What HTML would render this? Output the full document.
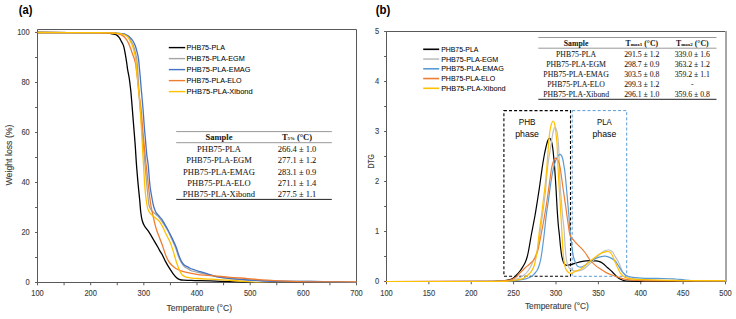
<!DOCTYPE html>
<html><head><meta charset="utf-8"><style>
html,body{margin:0;padding:0;background:#fff;}
body{width:736px;height:319px;overflow:hidden;font-family:"Liberation Sans",sans-serif;}
svg{display:block;}
</style></head><body>
<svg width="736" height="319" viewBox="0 0 736 319">
<rect width="736" height="319" fill="#fff"/>
<defs><clipPath id="ca"><rect x="37.5" y="28" width="319.5" height="254.6"/></clipPath><clipPath id="cb"><rect x="386" y="28" width="340" height="254"/></clipPath></defs>
<g stroke="#595959" stroke-width="1.0" fill="none">
<path d="M37.50 29.50 H356.50 V282.50"/>
<path d="M37.50 29.50 V282.50 H356.50"/>
<path d="M35.10 282.50 H37.50"/>
<path d="M35.10 257.50 H37.50"/>
<path d="M35.10 232.50 H37.50"/>
<path d="M35.10 207.50 H37.50"/>
<path d="M35.10 182.50 H37.50"/>
<path d="M35.10 157.50 H37.50"/>
<path d="M35.10 132.50 H37.50"/>
<path d="M35.10 107.50 H37.50"/>
<path d="M35.10 82.50 H37.50"/>
<path d="M35.10 57.50 H37.50"/>
<path d="M35.10 32.50 H37.50"/>
<path d="M37.50 282.50 V285.30"/>
<path d="M64.08 282.50 V285.30"/>
<path d="M90.67 282.50 V285.30"/>
<path d="M117.25 282.50 V285.30"/>
<path d="M143.83 282.50 V285.30"/>
<path d="M170.42 282.50 V285.30"/>
<path d="M197.00 282.50 V285.30"/>
<path d="M223.58 282.50 V285.30"/>
<path d="M250.17 282.50 V285.30"/>
<path d="M276.75 282.50 V285.30"/>
<path d="M303.33 282.50 V285.30"/>
<path d="M329.92 282.50 V285.30"/>
<path d="M356.50 282.50 V285.30"/>
</g>
<g clip-path="url(#ca)" fill="none" stroke-width="1.3" stroke-linejoin="round" stroke-linecap="round">
<path d="M38.00 32.50 C48.33 32.53 88.33 32.60 100.00 32.70 C111.67 32.80 105.97 32.90 108.00 33.10 C110.03 33.30 110.80 33.60 112.20 33.90 C113.60 34.20 115.22 34.28 116.40 34.90 C117.58 35.52 118.60 36.75 119.30 37.60 C120.00 38.45 119.90 38.67 120.60 40.00 C121.30 41.33 122.72 43.25 123.50 45.60 C124.28 47.95 124.75 51.12 125.30 54.10 C125.85 57.08 126.40 60.85 126.80 63.50 C127.20 66.15 127.30 67.58 127.70 70.00 C128.10 72.42 128.70 74.67 129.20 78.00 C129.70 81.33 130.30 86.33 130.70 90.00 C131.10 93.67 131.25 95.83 131.60 100.00 C131.95 104.17 132.40 110.00 132.80 115.00 C133.20 120.00 133.60 125.00 134.00 130.00 C134.40 135.00 134.78 139.17 135.20 145.00 C135.62 150.83 136.00 158.33 136.50 165.00 C137.00 171.67 137.67 179.17 138.20 185.00 C138.73 190.83 139.27 195.42 139.70 200.00 C140.13 204.58 140.38 209.08 140.80 212.50 C141.22 215.92 141.58 218.25 142.20 220.50 C142.82 222.75 143.32 223.98 144.50 226.00 C145.68 228.02 147.77 230.27 149.30 232.60 C150.83 234.93 152.33 237.68 153.70 240.00 C155.07 242.32 156.45 244.65 157.50 246.50 C158.55 248.35 159.18 249.68 160.00 251.10 C160.82 252.52 161.47 253.25 162.40 255.00 C163.33 256.75 164.43 259.40 165.60 261.60 C166.77 263.80 168.13 266.17 169.40 268.20 C170.67 270.23 171.95 272.17 173.20 273.80 C174.45 275.43 175.80 277.03 176.90 278.00 C178.00 278.97 178.70 279.23 179.80 279.60 C180.90 279.97 181.80 280.07 183.50 280.20 C185.20 280.33 188.08 280.33 190.00 280.40 C191.92 280.47 191.67 280.52 195.00 280.60 C198.33 280.68 204.17 280.72 210.00 280.90 C215.83 281.08 223.73 281.42 230.00 281.70 C236.27 281.98 242.27 282.32 247.60 282.60 C252.93 282.88 253.27 283.20 262.00 283.40 C270.73 283.60 284.33 283.70 300.00 283.80 C315.67 283.90 346.67 283.97 356.00 284.00" stroke="#000000"/>
<path d="M38.00 32.50 C48.33 32.53 87.17 32.58 100.00 32.70 C112.83 32.82 111.50 33.03 115.00 33.20 C118.50 33.37 119.50 33.55 121.00 33.70 C122.50 33.85 123.00 33.80 124.00 34.10 C125.00 34.40 126.12 34.92 127.00 35.50 C127.88 36.08 128.70 36.85 129.30 37.60 C129.90 38.35 129.92 38.67 130.60 40.00 C131.28 41.33 132.62 43.57 133.40 45.60 C134.18 47.63 134.75 50.00 135.30 52.20 C135.85 54.40 136.30 55.83 136.70 58.80 C137.10 61.77 137.38 65.63 137.70 70.00 C138.02 74.37 138.32 80.00 138.60 85.00 C138.88 90.00 139.03 95.00 139.40 100.00 C139.77 105.00 140.30 109.17 140.80 115.00 C141.30 120.83 141.90 129.17 142.40 135.00 C142.90 140.83 143.37 145.00 143.80 150.00 C144.23 155.00 144.55 159.67 145.00 165.00 C145.45 170.33 146.02 176.83 146.50 182.00 C146.98 187.17 147.48 192.17 147.90 196.00 C148.32 199.83 148.57 202.83 149.00 205.00 C149.43 207.17 149.92 207.92 150.50 209.00 C151.08 210.08 151.83 210.78 152.50 211.50 C153.17 212.22 153.67 212.58 154.50 213.30 C155.33 214.02 156.50 214.80 157.50 215.80 C158.50 216.80 159.48 217.97 160.50 219.30 C161.52 220.63 162.45 222.02 163.60 223.80 C164.75 225.58 166.10 227.58 167.40 230.00 C168.70 232.42 170.07 235.42 171.40 238.30 C172.73 241.18 174.30 244.52 175.40 247.30 C176.50 250.08 177.07 252.55 178.00 255.00 C178.93 257.45 179.95 260.07 181.00 262.00 C182.05 263.93 183.10 265.45 184.30 266.60 C185.50 267.75 186.93 268.17 188.20 268.90 C189.47 269.63 189.82 270.32 191.90 271.00 C193.98 271.68 197.68 272.28 200.70 273.00 C203.72 273.72 206.45 274.53 210.00 275.30 C213.55 276.07 217.00 276.90 222.00 277.60 C227.00 278.30 232.00 278.93 240.00 279.50 C248.00 280.07 258.33 280.68 270.00 281.00 C281.67 281.32 300.00 281.27 310.00 281.40 C320.00 281.53 322.33 281.65 330.00 281.80 C337.67 281.95 351.67 282.22 356.00 282.30" stroke="#a5a5a5"/>
<path d="M38.00 32.50 C48.33 32.53 87.17 32.58 100.00 32.70 C112.83 32.82 111.50 33.05 115.00 33.20 C118.50 33.35 119.50 33.48 121.00 33.60 C122.50 33.72 123.08 33.67 124.00 33.90 C124.92 34.13 125.70 34.60 126.50 35.00 C127.30 35.40 128.08 35.77 128.80 36.30 C129.52 36.83 130.20 37.58 130.80 38.20 C131.40 38.82 131.67 38.77 132.40 40.00 C133.13 41.23 134.42 43.57 135.20 45.60 C135.98 47.63 136.55 50.00 137.10 52.20 C137.65 54.40 138.08 55.83 138.50 58.80 C138.92 61.77 139.27 66.47 139.60 70.00 C139.93 73.53 140.22 76.67 140.50 80.00 C140.78 83.33 141.08 87.50 141.30 90.00 C141.52 92.50 141.50 91.67 141.80 95.00 C142.10 98.33 142.67 104.50 143.10 110.00 C143.53 115.50 144.00 123.00 144.40 128.00 C144.80 133.00 145.10 135.50 145.50 140.00 C145.90 144.50 146.35 150.83 146.80 155.00 C147.25 159.17 147.68 160.00 148.20 165.00 C148.72 170.00 149.33 179.83 149.90 185.00 C150.47 190.17 151.03 192.67 151.60 196.00 C152.17 199.33 152.77 202.70 153.30 205.00 C153.83 207.30 154.30 208.48 154.80 209.80 C155.30 211.12 155.68 211.97 156.30 212.90 C156.92 213.83 157.60 214.35 158.50 215.40 C159.40 216.45 160.72 217.83 161.70 219.20 C162.68 220.57 163.35 221.80 164.40 223.60 C165.45 225.40 166.72 227.58 168.00 230.00 C169.28 232.42 170.75 235.25 172.10 238.10 C173.45 240.95 175.02 244.33 176.10 247.10 C177.18 249.87 177.68 252.28 178.60 254.70 C179.52 257.12 180.62 259.83 181.60 261.60 C182.58 263.37 183.40 264.37 184.50 265.30 C185.60 266.23 186.97 266.58 188.20 267.20 C189.43 267.82 189.88 268.25 191.90 269.00 C193.92 269.75 197.17 270.73 200.30 271.70 C203.43 272.67 207.82 273.95 210.70 274.80 C213.58 275.65 214.38 276.17 217.60 276.80 C220.82 277.43 226.37 278.17 230.00 278.60 C233.63 279.03 233.75 279.00 239.40 279.40 C245.05 279.80 257.97 280.68 263.90 281.00 C269.83 281.32 267.32 281.23 275.00 281.30 C282.68 281.37 300.83 281.32 310.00 281.40 C319.17 281.48 322.33 281.65 330.00 281.80 C337.67 281.95 351.67 282.22 356.00 282.30" stroke="#4472c4"/>
<path d="M38.00 32.50 C48.33 32.55 87.67 32.68 100.00 32.80 C112.33 32.92 109.17 33.08 112.00 33.20 C114.83 33.32 115.67 33.32 117.00 33.50 C118.33 33.68 119.07 33.95 120.00 34.30 C120.93 34.65 121.80 35.07 122.60 35.60 C123.40 36.13 124.15 36.82 124.80 37.50 C125.45 38.18 125.93 38.85 126.50 39.70 C127.07 40.55 127.68 41.60 128.20 42.60 C128.72 43.60 128.98 44.10 129.60 45.70 C130.22 47.30 131.12 50.02 131.90 52.20 C132.68 54.38 133.67 56.75 134.30 58.80 C134.93 60.85 135.35 62.63 135.70 64.50 C136.05 66.37 136.12 67.75 136.40 70.00 C136.68 72.25 137.00 74.33 137.40 78.00 C137.80 81.67 138.27 87.50 138.80 92.00 C139.33 96.50 140.13 101.17 140.60 105.00 C141.07 108.83 141.23 110.83 141.60 115.00 C141.97 119.17 142.37 125.00 142.80 130.00 C143.23 135.00 143.73 140.00 144.20 145.00 C144.67 150.00 145.18 155.83 145.60 160.00 C146.02 164.17 146.25 165.83 146.70 170.00 C147.15 174.17 147.82 180.67 148.30 185.00 C148.78 189.33 149.18 192.67 149.60 196.00 C150.02 199.33 150.40 202.50 150.80 205.00 C151.20 207.50 151.65 209.27 152.00 211.00 C152.35 212.73 152.60 214.03 152.90 215.40 C153.20 216.77 153.43 217.63 153.80 219.20 C154.17 220.77 154.52 222.67 155.10 224.80 C155.68 226.93 156.48 229.63 157.30 232.00 C158.12 234.37 159.05 236.48 160.00 239.00 C160.95 241.52 162.00 244.27 163.00 247.10 C164.00 249.93 164.93 253.43 166.00 256.00 C167.07 258.57 168.05 260.63 169.40 262.50 C170.75 264.37 172.53 265.95 174.10 267.20 C175.67 268.45 177.07 269.22 178.80 270.00 C180.53 270.78 182.63 271.38 184.50 271.90 C186.37 272.42 187.67 272.65 190.00 273.10 C192.33 273.55 194.48 274.15 198.50 274.60 C202.52 275.05 208.85 275.35 214.10 275.80 C219.35 276.25 224.42 276.83 230.00 277.30 C235.58 277.77 242.27 278.17 247.60 278.60 C252.93 279.03 257.43 279.57 262.00 279.90 C266.57 280.23 268.67 280.32 275.00 280.60 C281.33 280.88 290.83 281.38 300.00 281.60 C309.17 281.82 320.67 281.83 330.00 281.90 C339.33 281.97 351.67 281.98 356.00 282.00" stroke="#ed7d31"/>
<path d="M38.00 32.50 C48.33 32.53 87.17 32.60 100.00 32.70 C112.83 32.80 111.58 32.93 115.00 33.10 C118.42 33.27 119.23 33.52 120.50 33.70 C121.77 33.88 121.77 33.93 122.60 34.20 C123.43 34.47 124.58 34.77 125.50 35.30 C126.42 35.83 127.42 36.62 128.10 37.40 C128.78 38.18 128.88 38.63 129.60 40.00 C130.32 41.37 131.62 43.57 132.40 45.60 C133.18 47.63 133.75 50.00 134.30 52.20 C134.85 54.40 135.32 55.83 135.70 58.80 C136.08 61.77 136.28 66.47 136.60 70.00 C136.92 73.53 137.27 76.67 137.60 80.00 C137.93 83.33 138.27 86.67 138.60 90.00 C138.93 93.33 139.27 95.83 139.60 100.00 C139.93 104.17 140.23 109.17 140.60 115.00 C140.97 120.83 141.42 128.33 141.80 135.00 C142.18 141.67 142.58 149.50 142.90 155.00 C143.22 160.50 143.40 163.00 143.70 168.00 C144.00 173.00 144.37 180.33 144.70 185.00 C145.03 189.67 145.32 192.67 145.70 196.00 C146.08 199.33 146.58 202.70 147.00 205.00 C147.42 207.30 147.73 208.48 148.20 209.80 C148.67 211.12 149.12 211.97 149.80 212.90 C150.48 213.83 151.37 214.57 152.30 215.40 C153.23 216.23 154.37 217.07 155.40 217.90 C156.43 218.73 157.57 219.42 158.50 220.40 C159.43 221.38 160.17 222.45 161.00 223.80 C161.83 225.15 162.67 226.80 163.50 228.50 C164.33 230.20 164.92 231.73 166.00 234.00 C167.08 236.27 168.90 239.58 170.00 242.10 C171.10 244.62 171.83 246.78 172.60 249.10 C173.37 251.42 173.88 253.60 174.60 256.00 C175.32 258.40 176.03 261.00 176.90 263.50 C177.77 266.00 178.85 269.05 179.80 271.00 C180.75 272.95 181.52 274.18 182.60 275.20 C183.68 276.22 185.07 276.67 186.30 277.10 C187.53 277.53 188.15 277.57 190.00 277.80 C191.85 278.03 194.07 278.27 197.40 278.50 C200.73 278.73 205.87 278.98 210.00 279.20 C214.13 279.42 217.30 279.50 222.20 279.80 C227.10 280.10 233.82 280.58 239.40 281.00 C244.98 281.42 250.93 281.93 255.70 282.30 C260.47 282.67 260.62 282.97 268.00 283.20 C275.38 283.43 285.33 283.57 300.00 283.70 C314.67 283.83 346.67 283.95 356.00 284.00" stroke="#ffc000"/>
</g>
<g font-family="Liberation Sans, sans-serif" font-size="8.2" fill="#404040" text-anchor="end" stroke="#404040" stroke-width="0.12">
<text x="29.7" y="285.00" textLength="4.2" lengthAdjust="spacingAndGlyphs">0</text>
<text x="29.7" y="235.00" textLength="8.3" lengthAdjust="spacingAndGlyphs">20</text>
<text x="29.7" y="185.00" textLength="8.3" lengthAdjust="spacingAndGlyphs">40</text>
<text x="29.7" y="135.00" textLength="8.3" lengthAdjust="spacingAndGlyphs">60</text>
<text x="29.7" y="85.00" textLength="8.3" lengthAdjust="spacingAndGlyphs">80</text>
<text x="29.7" y="35.00" textLength="12.5" lengthAdjust="spacingAndGlyphs">100</text>
</g>
<g font-family="Liberation Sans, sans-serif" font-size="8.2" fill="#404040" text-anchor="middle" stroke="#404040" stroke-width="0.12">
<text x="37.50" y="295.50" textLength="12.5" lengthAdjust="spacingAndGlyphs">100</text>
<text x="90.67" y="295.50" textLength="12.5" lengthAdjust="spacingAndGlyphs">200</text>
<text x="143.83" y="295.50" textLength="12.5" lengthAdjust="spacingAndGlyphs">300</text>
<text x="197.00" y="295.50" textLength="12.5" lengthAdjust="spacingAndGlyphs">400</text>
<text x="250.17" y="295.50" textLength="12.5" lengthAdjust="spacingAndGlyphs">500</text>
<text x="303.33" y="295.50" textLength="12.5" lengthAdjust="spacingAndGlyphs">600</text>
<text x="356.50" y="295.50" textLength="12.5" lengthAdjust="spacingAndGlyphs">700</text>
</g>
<text font-family="Liberation Sans, sans-serif" font-size="8.3" fill="#404040" stroke="#404040" stroke-width="0.12" text-anchor="middle" x="199.3" y="310.6" textLength="65.4" lengthAdjust="spacingAndGlyphs">Temperature (°C)</text>
<text font-family="Liberation Sans, sans-serif" font-size="8.3" fill="#404040" stroke="#404040" stroke-width="0.12" text-anchor="middle" transform="translate(11.6 155) rotate(-90)" x="0" y="0" textLength="61" lengthAdjust="spacingAndGlyphs">Weight loss (%)</text>
<path d="M168.8 47.60 H185.2" stroke="#000000" stroke-width="1.4"/>
<text font-family="Liberation Sans, sans-serif" font-size="7.9" fill="#000" stroke="#000" stroke-width="0.04" x="186.5" y="50.20" textLength="38.4" lengthAdjust="spacingAndGlyphs">PHB75-PLA</text>
<path d="M168.8 58.60 H185.2" stroke="#a5a5a5" stroke-width="1.4"/>
<text font-family="Liberation Sans, sans-serif" font-size="7.9" fill="#000" stroke="#000" stroke-width="0.04" x="186.5" y="61.20" textLength="58.3" lengthAdjust="spacingAndGlyphs">PHB75-PLA-EGM</text>
<path d="M168.8 69.60 H185.2" stroke="#4472c4" stroke-width="1.4"/>
<text font-family="Liberation Sans, sans-serif" font-size="7.9" fill="#000" stroke="#000" stroke-width="0.04" x="186.5" y="72.20" textLength="64.0" lengthAdjust="spacingAndGlyphs">PHB75-PLA-EMAG</text>
<path d="M168.8 80.60 H185.2" stroke="#ed7d31" stroke-width="1.4"/>
<text font-family="Liberation Sans, sans-serif" font-size="7.9" fill="#000" stroke="#000" stroke-width="0.04" x="186.5" y="83.20" textLength="55.0" lengthAdjust="spacingAndGlyphs">PHB75-PLA-ELO</text>
<path d="M168.8 91.60 H185.2" stroke="#ffc000" stroke-width="1.4"/>
<text font-family="Liberation Sans, sans-serif" font-size="7.9" fill="#000" stroke="#000" stroke-width="0.04" x="186.5" y="94.20" textLength="66.2" lengthAdjust="spacingAndGlyphs">PHB75-PLA-Xibond</text>
<g stroke="#595959" stroke-width="1.0" fill="none">
<path d="M386.50 31.50 V281.50 H725.50"/>
<path d="M386.50 31.50 H725.50"/>
<path d="M384.10 281.50 H386.50"/>
<path d="M384.10 256.50 H386.50"/>
<path d="M384.10 231.50 H386.50"/>
<path d="M384.10 206.50 H386.50"/>
<path d="M384.10 181.50 H386.50"/>
<path d="M384.10 156.50 H386.50"/>
<path d="M384.10 131.50 H386.50"/>
<path d="M384.10 106.50 H386.50"/>
<path d="M384.10 81.50 H386.50"/>
<path d="M384.10 56.50 H386.50"/>
<path d="M384.10 31.50 H386.50"/>
<path d="M386.50 281.50 V284.30"/>
<path d="M428.88 281.50 V284.30"/>
<path d="M471.25 281.50 V284.30"/>
<path d="M513.62 281.50 V284.30"/>
<path d="M556.00 281.50 V284.30"/>
<path d="M598.38 281.50 V284.30"/>
<path d="M640.75 281.50 V284.30"/>
<path d="M683.12 281.50 V284.30"/>
<path d="M725.50 281.50 V284.30"/>
</g>
<path d="M726 31.00 V282.00" stroke="#a6a6a6" stroke-width="2"/>
<rect x="503.9" y="110.6" width="66.6" height="165.7" fill="none" stroke="#000" stroke-width="1.1" stroke-dasharray="3 2.1"/>
<rect x="572.2" y="110.6" width="54.5" height="165.7" fill="none" stroke="#5b9bd5" stroke-width="1.0" stroke-dasharray="3 2.1"/>
<g clip-path="url(#cb)" fill="none" stroke-width="1.2" stroke-linejoin="round" stroke-linecap="round">
<path d="M386.30 281.50 C401.92 281.48 461.38 281.50 480.00 281.40 C498.62 281.30 493.83 281.05 498.00 280.90 C502.17 280.75 503.00 280.72 505.00 280.50 C507.00 280.28 508.67 279.97 510.00 279.60 C511.33 279.23 512.00 278.98 513.00 278.30 C514.00 277.62 514.83 276.72 516.00 275.50 C517.17 274.28 518.83 272.50 520.00 271.00 C521.17 269.50 522.13 267.92 523.00 266.50 C523.87 265.08 524.53 264.00 525.20 262.50 C525.87 261.00 526.42 259.58 527.00 257.50 C527.58 255.42 527.98 253.75 528.70 250.00 C529.42 246.25 530.55 239.17 531.30 235.00 C532.05 230.83 532.57 228.33 533.20 225.00 C533.83 221.67 534.43 218.83 535.10 215.00 C535.77 211.17 536.42 207.00 537.20 202.00 C537.98 197.00 538.95 190.83 539.80 185.00 C540.65 179.17 541.55 172.00 542.30 167.00 C543.05 162.00 543.68 158.33 544.30 155.00 C544.92 151.67 545.45 149.33 546.00 147.00 C546.55 144.67 547.03 142.50 547.60 141.00 C548.17 139.50 548.80 138.08 549.40 138.00 C550.00 137.92 550.67 139.00 551.20 140.50 C551.73 142.00 552.17 144.08 552.60 147.00 C553.03 149.92 553.47 154.67 553.80 158.00 C554.13 161.33 554.22 161.67 554.60 167.00 C554.98 172.33 555.67 182.83 556.10 190.00 C556.53 197.17 556.83 204.17 557.20 210.00 C557.57 215.83 557.93 220.83 558.30 225.00 C558.67 229.17 559.02 231.25 559.40 235.00 C559.78 238.75 560.20 243.95 560.60 247.50 C561.00 251.05 561.32 253.83 561.80 256.30 C562.28 258.77 562.97 260.92 563.50 262.30 C564.03 263.68 564.48 264.10 565.00 264.60 C565.52 265.10 565.68 265.28 566.60 265.30 C567.52 265.32 569.10 265.03 570.50 264.70 C571.90 264.37 573.00 263.85 575.00 263.30 C577.00 262.75 580.00 261.85 582.50 261.40 C585.00 260.95 587.92 260.68 590.00 260.60 C592.08 260.52 593.53 260.77 595.00 260.90 C596.47 261.03 597.53 261.02 598.80 261.40 C600.07 261.78 601.13 262.15 602.60 263.20 C604.07 264.25 605.93 266.20 607.60 267.70 C609.27 269.20 611.05 270.68 612.60 272.20 C614.15 273.72 615.58 275.62 616.90 276.80 C618.22 277.98 619.32 278.67 620.50 279.30 C621.68 279.93 622.42 280.28 624.00 280.60 C625.58 280.92 625.67 281.08 630.00 281.20 C634.33 281.32 634.05 281.28 650.00 281.30 C665.95 281.32 713.08 281.30 725.70 281.30" stroke="#000000"/>
<path d="M386.30 281.50 C401.92 281.48 461.05 281.47 480.00 281.40 C498.95 281.33 495.00 281.25 500.00 281.10 C505.00 280.95 507.00 280.93 510.00 280.50 C513.00 280.07 515.67 279.42 518.00 278.50 C520.33 277.58 522.33 276.25 524.00 275.00 C525.67 273.75 526.67 272.83 528.00 271.00 C529.33 269.17 530.83 266.33 532.00 264.00 C533.17 261.67 534.08 259.33 535.00 257.00 C535.92 254.67 536.75 253.33 537.50 250.00 C538.25 246.67 538.78 242.00 539.50 237.00 C540.22 232.00 541.08 225.33 541.80 220.00 C542.52 214.67 543.17 210.00 543.80 205.00 C544.43 200.00 545.02 195.83 545.60 190.00 C546.18 184.17 546.73 175.50 547.30 170.00 C547.87 164.50 548.43 160.83 549.00 157.00 C549.57 153.17 550.17 150.33 550.70 147.00 C551.23 143.67 551.72 139.83 552.20 137.00 C552.68 134.17 553.13 131.60 553.60 130.00 C554.07 128.40 554.53 127.48 555.00 127.40 C555.47 127.32 555.98 128.32 556.40 129.50 C556.82 130.68 557.18 132.42 557.50 134.50 C557.82 136.58 558.07 139.08 558.30 142.00 C558.53 144.92 558.70 147.33 558.90 152.00 C559.10 156.67 559.23 163.67 559.50 170.00 C559.77 176.33 560.13 184.17 560.50 190.00 C560.87 195.83 561.28 200.00 561.70 205.00 C562.12 210.00 562.60 215.83 563.00 220.00 C563.40 224.17 563.82 226.67 564.10 230.00 C564.38 233.33 564.43 236.03 564.70 240.00 C564.97 243.97 565.35 250.22 565.70 253.80 C566.05 257.38 566.42 259.47 566.80 261.50 C567.18 263.53 567.45 264.75 568.00 266.00 C568.55 267.25 569.13 268.18 570.10 269.00 C571.07 269.82 572.57 270.57 573.80 270.90 C575.03 271.23 576.05 271.18 577.50 271.00 C578.95 270.82 580.42 271.00 582.50 269.80 C584.58 268.60 587.48 266.05 590.00 263.80 C592.52 261.55 595.30 258.38 597.60 256.30 C599.90 254.22 601.92 252.35 603.80 251.30 C605.68 250.25 607.43 249.90 608.90 250.00 C610.37 250.10 611.58 250.85 612.60 251.90 C613.62 252.95 614.02 254.62 615.00 256.30 C615.98 257.98 617.50 260.05 618.50 262.00 C619.50 263.95 620.22 266.23 621.00 268.00 C621.78 269.77 622.05 271.10 623.20 272.60 C624.35 274.10 625.93 275.93 627.90 277.00 C629.87 278.07 632.15 278.52 635.00 279.00 C637.85 279.48 637.50 279.63 645.00 279.90 C652.50 280.17 666.55 280.43 680.00 280.60 C693.45 280.77 718.08 280.85 725.70 280.90" stroke="#bfbfbf"/>
<path d="M386.30 281.50 C401.92 281.50 461.05 281.55 480.00 281.50 C498.95 281.45 494.37 281.35 500.00 281.20 C505.63 281.05 510.47 280.82 513.80 280.60 C517.13 280.38 517.92 280.23 520.00 279.90 C522.08 279.57 524.63 279.03 526.30 278.60 C527.97 278.17 528.95 277.80 530.00 277.30 C531.05 276.80 531.68 276.40 532.60 275.60 C533.52 274.80 534.67 273.52 535.50 272.50 C536.33 271.48 536.97 270.75 537.60 269.50 C538.23 268.25 538.78 266.67 539.30 265.00 C539.82 263.33 540.22 262.00 540.70 259.50 C541.18 257.00 541.63 254.08 542.20 250.00 C542.77 245.92 543.42 240.83 544.10 235.00 C544.78 229.17 545.57 220.83 546.30 215.00 C547.03 209.17 547.80 205.00 548.50 200.00 C549.20 195.00 549.87 189.33 550.50 185.00 C551.13 180.67 551.75 177.00 552.30 174.00 C552.85 171.00 553.27 169.17 553.80 167.00 C554.33 164.83 554.92 162.67 555.50 161.00 C556.08 159.33 556.75 158.00 557.30 157.00 C557.85 156.00 558.33 155.43 558.80 155.00 C559.27 154.57 559.65 154.30 560.10 154.40 C560.55 154.50 561.02 154.67 561.50 155.60 C561.98 156.53 562.62 158.43 563.00 160.00 C563.38 161.57 563.50 163.17 563.80 165.00 C564.10 166.83 564.40 167.67 564.80 171.00 C565.20 174.33 565.75 180.17 566.20 185.00 C566.65 189.83 567.08 195.33 567.50 200.00 C567.92 204.67 568.32 208.33 568.70 213.00 C569.08 217.67 569.47 223.92 569.80 228.00 C570.13 232.08 570.33 234.25 570.70 237.50 C571.07 240.75 571.58 244.47 572.00 247.50 C572.42 250.53 572.77 253.53 573.20 255.70 C573.63 257.87 574.10 259.07 574.60 260.50 C575.10 261.93 575.63 263.30 576.20 264.30 C576.77 265.30 577.15 266.03 578.00 266.50 C578.85 266.97 580.13 267.30 581.30 267.10 C582.47 266.90 583.55 266.23 585.00 265.30 C586.45 264.37 588.32 262.58 590.00 261.50 C591.68 260.42 593.42 259.57 595.10 258.80 C596.78 258.03 598.43 257.33 600.10 256.90 C601.77 256.47 603.43 256.08 605.10 256.20 C606.77 256.32 608.45 256.83 610.10 257.60 C611.75 258.37 613.68 259.57 615.00 260.80 C616.32 262.03 616.90 263.33 618.00 265.00 C619.10 266.67 620.52 269.25 621.60 270.80 C622.68 272.35 623.60 273.43 624.50 274.30 C625.40 275.17 625.65 275.48 627.00 276.00 C628.35 276.52 629.60 277.02 632.60 277.40 C635.60 277.78 639.70 278.12 645.00 278.30 C650.30 278.48 659.40 278.38 664.40 278.50 C669.40 278.62 671.93 278.80 675.00 279.00 C678.07 279.20 680.08 279.45 682.80 279.70 C685.52 279.95 688.43 280.32 691.30 280.50 C694.17 280.68 694.27 280.73 700.00 280.80 C705.73 280.87 721.42 280.88 725.70 280.90" stroke="#5b9bd5"/>
<path d="M386.30 281.50 C401.92 281.48 461.05 281.47 480.00 281.40 C498.95 281.33 495.50 281.23 500.00 281.10 C504.50 280.97 505.17 280.82 507.00 280.60 C508.83 280.38 509.83 280.13 511.00 279.80 C512.17 279.47 512.95 279.23 514.00 278.60 C515.05 277.97 516.28 276.97 517.30 276.00 C518.32 275.03 519.15 273.80 520.10 272.80 C521.05 271.80 522.10 270.88 523.00 270.00 C523.90 269.12 524.57 268.33 525.50 267.50 C526.43 266.67 527.63 265.83 528.60 265.00 C529.57 264.17 530.48 263.33 531.30 262.50 C532.12 261.67 532.83 260.87 533.50 260.00 C534.17 259.13 534.72 258.47 535.30 257.30 C535.88 256.13 536.48 254.55 537.00 253.00 C537.52 251.45 537.95 249.83 538.40 248.00 C538.85 246.17 539.17 244.67 539.70 242.00 C540.23 239.33 540.97 235.33 541.60 232.00 C542.23 228.67 542.93 225.17 543.50 222.00 C544.07 218.83 544.45 216.33 545.00 213.00 C545.55 209.67 546.22 205.83 546.80 202.00 C547.38 198.17 547.97 193.83 548.50 190.00 C549.03 186.17 549.53 182.33 550.00 179.00 C550.47 175.67 550.92 172.33 551.30 170.00 C551.68 167.67 551.88 166.63 552.30 165.00 C552.72 163.37 553.23 161.33 553.80 160.20 C554.37 159.07 555.07 158.30 555.70 158.20 C556.33 158.10 557.05 158.80 557.60 159.60 C558.15 160.40 558.57 161.60 559.00 163.00 C559.43 164.40 559.78 165.67 560.20 168.00 C560.62 170.33 561.03 173.67 561.50 177.00 C561.97 180.33 562.48 184.33 563.00 188.00 C563.52 191.67 564.10 195.58 564.60 199.00 C565.10 202.42 565.55 205.33 566.00 208.50 C566.45 211.67 566.88 215.00 567.30 218.00 C567.72 221.00 568.12 223.92 568.50 226.50 C568.88 229.08 569.13 231.62 569.60 233.50 C570.07 235.38 570.70 236.80 571.30 237.80 C571.90 238.80 572.58 238.83 573.20 239.50 C573.82 240.17 573.87 240.57 575.00 241.80 C576.13 243.03 578.33 245.12 580.00 246.90 C581.67 248.68 583.33 250.32 585.00 252.50 C586.67 254.68 588.32 257.90 590.00 260.00 C591.68 262.10 593.42 263.63 595.10 265.10 C596.78 266.57 598.23 267.55 600.10 268.80 C601.97 270.05 604.22 271.53 606.30 272.60 C608.38 273.67 611.08 274.60 612.60 275.20 C614.12 275.80 613.63 275.58 615.40 276.20 C617.17 276.82 620.43 278.23 623.20 278.90 C625.97 279.57 628.37 279.88 632.00 280.20 C635.63 280.52 637.00 280.67 645.00 280.80 C653.00 280.93 666.55 280.97 680.00 281.00 C693.45 281.03 718.08 281.00 725.70 281.00" stroke="#ed7d31"/>
<path d="M386.30 281.50 C401.92 281.50 461.05 281.53 480.00 281.50 C498.95 281.47 495.42 281.35 500.00 281.30 C504.58 281.25 505.17 281.33 507.50 281.20 C509.83 281.07 511.92 280.80 514.00 280.50 C516.08 280.20 518.42 279.78 520.00 279.40 C521.58 279.02 522.45 278.72 523.50 278.20 C524.55 277.68 525.38 277.00 526.30 276.30 C527.22 275.60 528.17 274.83 529.00 274.00 C529.83 273.17 530.57 272.38 531.30 271.30 C532.03 270.22 532.78 268.97 533.40 267.50 C534.02 266.03 534.52 264.42 535.00 262.50 C535.48 260.58 535.92 258.08 536.30 256.00 C536.68 253.92 536.88 253.33 537.30 250.00 C537.72 246.67 538.32 240.17 538.80 236.00 C539.28 231.83 539.73 228.50 540.20 225.00 C540.67 221.50 541.13 218.67 541.60 215.00 C542.07 211.33 542.50 207.17 543.00 203.00 C543.50 198.83 544.10 194.33 544.60 190.00 C545.10 185.67 545.60 181.17 546.00 177.00 C546.40 172.83 546.67 169.17 547.00 165.00 C547.33 160.83 547.68 156.17 548.00 152.00 C548.32 147.83 548.55 143.67 548.90 140.00 C549.25 136.33 549.68 132.67 550.10 130.00 C550.52 127.33 550.92 125.50 551.40 124.00 C551.88 122.50 552.48 121.08 553.00 121.00 C553.52 120.92 554.07 122.00 554.50 123.50 C554.93 125.00 555.27 127.50 555.60 130.00 C555.93 132.50 556.25 136.00 556.50 138.50 C556.75 141.00 556.92 141.75 557.10 145.00 C557.28 148.25 557.38 153.00 557.60 158.00 C557.82 163.00 558.12 169.67 558.40 175.00 C558.68 180.33 559.03 185.83 559.30 190.00 C559.57 194.17 559.77 196.33 560.00 200.00 C560.23 203.67 560.43 207.50 560.70 212.00 C560.97 216.50 561.33 222.33 561.60 227.00 C561.87 231.67 562.03 235.58 562.30 240.00 C562.57 244.42 562.87 249.58 563.20 253.50 C563.53 257.42 563.90 261.00 564.30 263.50 C564.70 266.00 565.07 267.17 565.60 268.50 C566.13 269.83 566.80 270.70 567.50 271.50 C568.20 272.30 569.05 273.03 569.80 273.30 C570.55 273.57 571.12 273.42 572.00 273.10 C572.88 272.78 573.55 272.12 575.10 271.40 C576.65 270.68 579.23 270.17 581.30 268.80 C583.37 267.43 585.42 264.97 587.50 263.20 C589.58 261.43 591.70 259.77 593.80 258.20 C595.90 256.63 598.02 254.90 600.10 253.80 C602.18 252.70 604.63 251.85 606.30 251.60 C607.97 251.35 609.05 251.57 610.10 252.30 C611.15 253.03 611.75 254.35 612.60 256.00 C613.45 257.65 614.30 260.12 615.20 262.20 C616.10 264.28 617.18 266.77 618.00 268.50 C618.82 270.23 619.35 271.43 620.10 272.60 C620.85 273.77 621.72 274.73 622.50 275.50 C623.28 276.27 623.37 276.63 624.80 277.20 C626.23 277.77 627.73 278.48 631.10 278.90 C634.47 279.32 638.52 279.47 645.00 279.70 C651.48 279.93 662.50 280.15 670.00 280.30 C677.50 280.45 680.72 280.55 690.00 280.60 C699.28 280.65 719.75 280.60 725.70 280.60" stroke="#ffc000"/>
</g>
<g font-family="Liberation Sans, sans-serif" font-size="8.2" fill="#404040" text-anchor="end" stroke="#404040" stroke-width="0.12">
<text x="379.1" y="284.00" textLength="4.2" lengthAdjust="spacingAndGlyphs">0</text>
<text x="379.1" y="234.00" textLength="4.2" lengthAdjust="spacingAndGlyphs">1</text>
<text x="379.1" y="184.00" textLength="4.2" lengthAdjust="spacingAndGlyphs">2</text>
<text x="379.1" y="134.00" textLength="4.2" lengthAdjust="spacingAndGlyphs">3</text>
<text x="379.1" y="84.00" textLength="4.2" lengthAdjust="spacingAndGlyphs">4</text>
<text x="379.1" y="34.00" textLength="4.2" lengthAdjust="spacingAndGlyphs">5</text>
</g>
<g font-family="Liberation Sans, sans-serif" font-size="8.2" fill="#404040" text-anchor="middle" stroke="#404040" stroke-width="0.12">
<text x="386.50" y="295.50" textLength="12.5" lengthAdjust="spacingAndGlyphs">100</text>
<text x="428.88" y="295.50" textLength="12.5" lengthAdjust="spacingAndGlyphs">150</text>
<text x="471.25" y="295.50" textLength="12.5" lengthAdjust="spacingAndGlyphs">200</text>
<text x="513.62" y="295.50" textLength="12.5" lengthAdjust="spacingAndGlyphs">250</text>
<text x="556.00" y="295.50" textLength="12.5" lengthAdjust="spacingAndGlyphs">300</text>
<text x="598.38" y="295.50" textLength="12.5" lengthAdjust="spacingAndGlyphs">350</text>
<text x="640.75" y="295.50" textLength="12.5" lengthAdjust="spacingAndGlyphs">400</text>
<text x="683.12" y="295.50" textLength="12.5" lengthAdjust="spacingAndGlyphs">450</text>
<text x="725.50" y="295.50" textLength="12.5" lengthAdjust="spacingAndGlyphs">500</text>
</g>
<text font-family="Liberation Sans, sans-serif" font-size="8.3" fill="#404040" stroke="#404040" stroke-width="0.12" text-anchor="middle" x="556.9" y="309.4" textLength="64.0" lengthAdjust="spacingAndGlyphs">Temperature (°C)</text>
<text font-family="Liberation Sans, sans-serif" font-size="8.3" fill="#404040" stroke="#404040" stroke-width="0.12" text-anchor="middle" transform="translate(374.4 161.3) rotate(-90)" x="0" y="0" textLength="14.6" lengthAdjust="spacingAndGlyphs">DTG</text>
<path d="M423.2 49.30 H439.2" stroke="#000000" stroke-width="1.6"/>
<text font-family="Liberation Sans, sans-serif" font-size="7.9" fill="#000" stroke="#000" stroke-width="0.04" x="441.2" y="51.90" textLength="37.2" lengthAdjust="spacingAndGlyphs">PHB75-PLA</text>
<path d="M423.2 59.05 H439.2" stroke="#bfbfbf" stroke-width="1.6"/>
<text font-family="Liberation Sans, sans-serif" font-size="7.9" fill="#000" stroke="#000" stroke-width="0.04" x="441.2" y="61.65" textLength="57.1" lengthAdjust="spacingAndGlyphs">PHB75-PLA-EGM</text>
<path d="M423.2 68.80 H439.2" stroke="#5b9bd5" stroke-width="1.6"/>
<text font-family="Liberation Sans, sans-serif" font-size="7.9" fill="#000" stroke="#000" stroke-width="0.04" x="441.2" y="71.40" textLength="62.6" lengthAdjust="spacingAndGlyphs">PHB75-PLA-EMAG</text>
<path d="M423.2 78.55 H439.2" stroke="#ed7d31" stroke-width="1.6"/>
<text font-family="Liberation Sans, sans-serif" font-size="7.9" fill="#000" stroke="#000" stroke-width="0.04" x="441.2" y="81.15" textLength="53.9" lengthAdjust="spacingAndGlyphs">PHB75-PLA-ELO</text>
<path d="M423.2 88.30 H439.2" stroke="#ffc000" stroke-width="1.6"/>
<text font-family="Liberation Sans, sans-serif" font-size="7.9" fill="#000" stroke="#000" stroke-width="0.04" x="441.2" y="90.90" textLength="64.5" lengthAdjust="spacingAndGlyphs">PHB75-PLA-Xibond</text>
<g font-family="Liberation Sans, sans-serif" font-size="8.6" fill="#111" text-anchor="middle" stroke="#000" stroke-width="0.04">
<text x="527.1" y="125.2" textLength="16.8" lengthAdjust="spacingAndGlyphs">PHB</text><text x="527.1" y="137.3" textLength="23.8" lengthAdjust="spacingAndGlyphs">phase</text>
<text x="604.4" y="125.2" textLength="14.8" lengthAdjust="spacingAndGlyphs">PLA</text><text x="604.4" y="137.3" textLength="23.8" lengthAdjust="spacingAndGlyphs">phase</text>
</g>
<text font-family="Liberation Sans, sans-serif" font-weight="bold" font-size="12.4" fill="#000" x="18.8" y="13.8" textLength="13.6" lengthAdjust="spacingAndGlyphs">(a)</text>
<text font-family="Liberation Sans, sans-serif" font-weight="bold" font-size="12.4" fill="#000" x="375.8" y="13.8" textLength="14.6" lengthAdjust="spacingAndGlyphs">(b)</text>
<path d="M176.2 131.6 H331.8" stroke="#8c8c8c" stroke-width="0.9"/>
<path d="M176.2 142.7 H331.8" stroke="#8c8c8c" stroke-width="0.9"/>
<path d="M176.2 199.4 H331.8" stroke="#222" stroke-width="1.0"/>
<g font-family="Liberation Serif, serif" font-size="8.5" fill="#1a1a1a" text-anchor="middle" stroke="#1a1a1a" stroke-width="0.06">
<text x="219" y="140.4" font-weight="bold">Sample</text>
<text x="297" y="140.4" font-weight="bold">T<tspan font-size="4.8">5%</tspan> (°C)</text>
<text x="219" y="152.00">PHB75-PLA</text><text x="297" y="152.00">266.4 ± 1.0</text>
<text x="219" y="163.33">PHB75-PLA-EGM</text><text x="297" y="163.33">277.1 ± 1.2</text>
<text x="219" y="174.66">PHB75-PLA-EMAG</text><text x="297" y="174.66">283.1 ± 0.9</text>
<text x="219" y="185.99">PHB75-PLA-ELO</text><text x="297" y="185.99">271.1 ± 1.4</text>
<text x="219" y="197.32">PHB75-PLA-Xibond</text><text x="297" y="197.32">277.5 ± 1.1</text>
</g>
<path d="M538.3 37.5 H716.5" stroke="#8c8c8c" stroke-width="0.9"/>
<path d="M538.3 48.2 H716.5" stroke="#8c8c8c" stroke-width="0.9"/>
<path d="M538.3 99.3 H716.5" stroke="#222" stroke-width="1.0"/>
<g font-family="Liberation Serif, serif" font-size="7.75" fill="#1a1a1a" text-anchor="middle" stroke="#1a1a1a" stroke-width="0.06">
<text x="576.1" y="46.0" font-weight="bold">Sample</text>
<text x="641.8" y="46.0" font-weight="bold">T<tspan font-size="5">max1</tspan> (°C)</text>
<text x="692.3" y="46.0" font-weight="bold">T<tspan font-size="5">max2</tspan> (°C)</text>
<text x="576.1" y="57.00">PHB75-PLA</text><text x="641.8" y="57.00">291.5 ± 1.2</text><text x="692.3" y="57.00">339.0 ± 1.6</text>
<text x="576.1" y="66.95">PHB75-PLA-EGM</text><text x="641.8" y="66.95">298.7 ± 0.9</text><text x="692.3" y="66.95">363.2 ± 1.2</text>
<text x="576.1" y="76.90">PHB75-PLA-EMAG</text><text x="641.8" y="76.90">303.5 ± 0.8</text><text x="692.3" y="76.90">359.2 ± 1.1</text>
<text x="576.1" y="86.85">PHB75-PLA-ELO</text><text x="641.8" y="86.85">299.3 ± 1.2</text><text x="692.3" y="86.85">-</text>
<text x="576.1" y="96.80">PHB75-PLA-Xibond</text><text x="641.8" y="96.80">296.1 ± 1.0</text><text x="692.3" y="96.80">359.6 ± 0.8</text>
</g>
</svg>
</body></html>
